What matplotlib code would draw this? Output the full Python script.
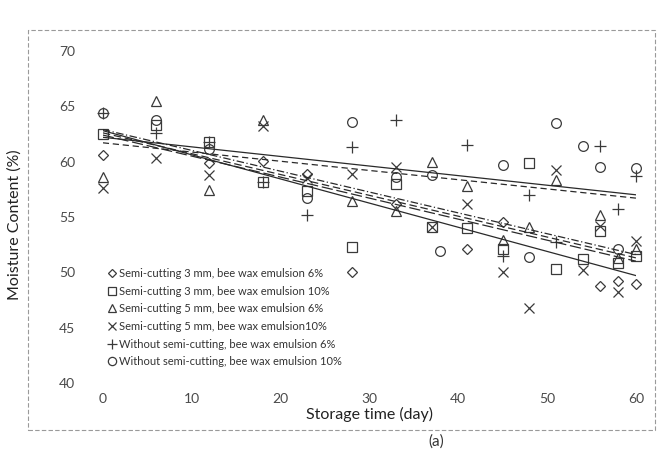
import numpy as np
import matplotlib
matplotlib.use("Agg")
import matplotlib.pyplot as plt
from matplotlib.patches import Rectangle

## Data (storage day, moisture content %)
labels = [
    "Semi-cutting 3 mm, bee wax emulsion 6%",
    "Semi-cutting 3 mm, bee wax emulsion 10%",
    "Semi-cutting 5 mm, bee wax emulsion 6%",
    "Semi-cutting 5 mm, bee wax emulsion10%",
    "Without semi-cutting, bee wax emulsion 6%",
    "Without semi-cutting, bee wax emulsion 10%",
]

days_s1 = [0, 12, 18, 23, 28, 33, 41, 45, 56, 58, 60]
mc_s1 = [60.6, 59.9, 60.1, 58.9, 50.0, 56.2, 52.1, 54.5, 48.8, 49.2, 48.9]

days_s2 = [0, 6, 12, 18, 23, 28, 33, 37, 41, 45, 48, 51, 54, 56, 58, 60]
mc_s2 = [62.5, 63.3, 61.8, 58.2, 57.3, 52.3, 58.0, 54.1, 54.0, 52.1, 59.9, 50.3, 51.2, 53.7, 50.8, 51.5]

days_s3 = [0, 6, 12, 18, 28, 33, 37, 41, 45, 48, 51, 56, 58, 60]
mc_s3 = [58.6, 65.5, 57.4, 63.8, 56.4, 55.5, 60.0, 57.8, 52.9, 54.1, 58.3, 55.2, 51.3, 52.1]

days_s4 = [0, 6, 12, 18, 23, 28, 33, 37, 41, 45, 48, 51, 54, 56, 58, 60]
mc_s4 = [57.6, 60.3, 58.8, 63.2, 58.5, 58.9, 59.5, 54.1, 56.2, 50.0, 46.8, 59.2, 50.2, 54.2, 48.2, 52.8]

days_s5 = [0, 6, 12, 18, 23, 28, 33, 41, 45, 48, 51, 56, 58, 60]
mc_s5 = [64.4, 62.6, 61.8, 58.2, 55.2, 61.3, 63.8, 61.5, 51.5, 57.0, 52.7, 61.4, 55.7, 58.7]

days_s6 = [0, 6, 12, 23, 28, 33, 37, 38, 45, 48, 51, 54, 56, 58, 60]
mc_s6 = [64.4, 63.8, 61.1, 56.7, 63.6, 58.6, 58.8, 51.9, 59.7, 51.4, 63.5, 61.4, 59.5, 52.1, 59.4]

## Linear trend lines (value at day 0 and day 60)
trend_day0 = [62.8, 62.6, 62.9, 62.4, 61.7, 62.2]
trend_day60 = [49.7, 51.3, 51.6, 51.0, 56.7, 57.0]

x_ticks = [0, 10, 20, 30, 40, 50, 60]
y_ticks = [40, 45, 50, 55, 60, 65, 70]


def plot_moisture():
    """
    Scatter of moisture content over storage time with linear trend lines
    """
    plt.rcParams["font.family"] = ["Lato", "DejaVu Sans"]

    days = [days_s1, days_s2, days_s3, days_s4, days_s5, days_s6]
    values = [mc_s1, mc_s2, mc_s3, mc_s4, mc_s5, mc_s6]
    markers = ["D", "s", "^", "x", "+", "o"]
    sizes = [5, 7, 7, 7, 8, 7]
    styles = ["-", (0, (6, 3)), (0, (6, 2, 1, 2)), (0, (9, 3)), (0, (5, 3)), "-"]
    ink = "#3a3a3a"

    fig = plt.figure(figsize=(6.59, 4.51), dpi=100)
    ax = fig.add_axes([0.156, 0.151, 0.809, 0.736])

    ## Points
    for d, v, m, s, lab in zip(days, values, markers, sizes, labels):
        if m in ("x", "+"):
            ax.plot(d, v, linestyle="none", marker=m, markersize=s, color=ink,
                    markeredgewidth=0.9, label=lab, clip_on=False)
        else:
            ax.plot(d, v, linestyle="none", marker=m, markersize=s,
                    markerfacecolor="none", markeredgecolor=ink,
                    markeredgewidth=0.9, label=lab, clip_on=False)

    ## Trend lines
    for y0, y1, ls in zip(trend_day0, trend_day60, styles):
        ax.plot([0, 60], [y0, y1], color="#2a2a2a", linewidth=0.9, linestyle=ls)

    ax.set_xlim(0, 60)
    ax.set_ylim(40, 70)
    ax.set_xticks(x_ticks)
    ax.set_yticks(y_ticks)
    for side in ["top", "right", "bottom", "left"]:
        ax.spines[side].set_visible(False)
    ax.tick_params(axis="y", length=0, pad=20, labelsize=10, labelcolor="#4a4a4a")
    ax.tick_params(axis="x", length=0, pad=7, labelsize=10, labelcolor="#4a4a4a")

    ax.set_xlabel("Storage time (day)", fontsize=11.5, color="#222222", labelpad=2)
    ax.set_ylabel("Moisture Content (%)", fontsize=11.5, color="#222222")
    ax.yaxis.set_label_coords(-0.152, 0.476)

    ax.legend(loc="upper left", bbox_to_anchor=(0.0, 0.36), frameon=False,
              fontsize=8, labelspacing=0.6, handlelength=0.8, handletextpad=0.3,
              borderaxespad=0.0, labelcolor="#333333", markerscale=0.85)

    ## Scanned frame and panel tag
    fig.patches.append(Rectangle((0.042, 0.047), 0.952, 0.887, transform=fig.transFigure,
                                 fill=False, edgecolor="#9a9a9a", linewidth=0.8,
                                 linestyle=(0, (4, 2))))
    fig.text(0.662, 0.022, "(a)", ha="center", va="center", fontsize=11, color="#333333")

    fig.savefig("out.png", dpi=100)


if __name__ == "__main__":
    plot_moisture()
